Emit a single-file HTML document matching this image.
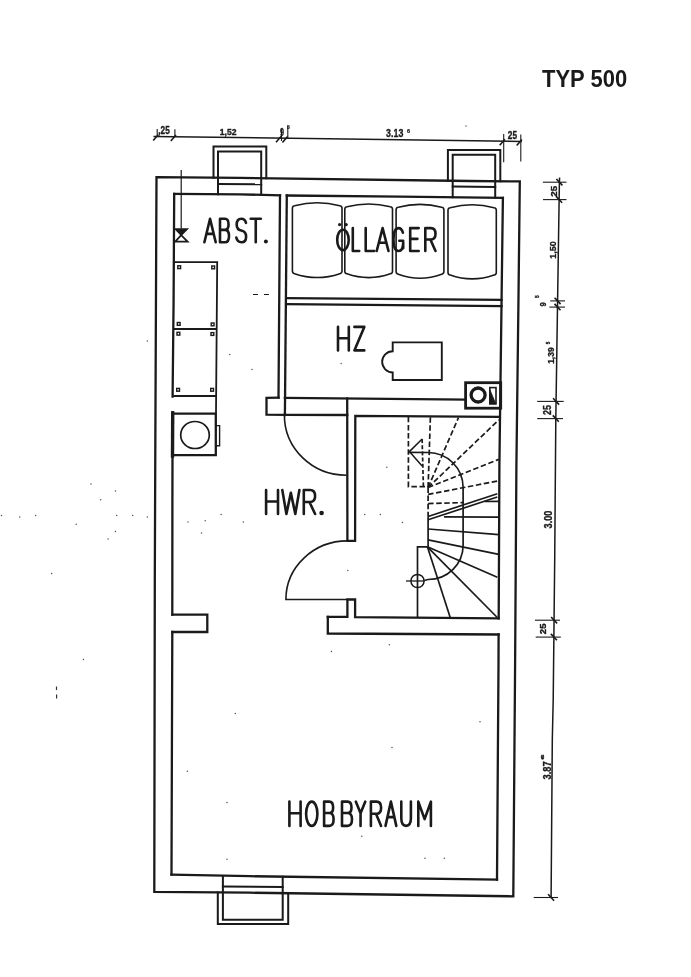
<!DOCTYPE html>
<html><head><meta charset="utf-8"><title>Typ 500</title>
<style>html,body{margin:0;padding:0;background:#fff;overflow:hidden;}svg{display:block;filter:grayscale(1);}</style>
</head><body>
<svg width="691" height="977" viewBox="0 0 691 977" stroke-linecap="butt" stroke-linejoin="miter">
<rect width="691" height="977" fill="#fff"/>
<path d="M156.5,177.2 L240.0,177.9 L470.0,181.0 L519.8,181.4 L518.4,305.0 L516.4,465.0 L515.1,665.0 L513.3,896.3 L250.0,892.7 L154.3,891.8 L154.8,580.0 L155.3,450.0 Z" fill="none" stroke="#1a1a1a" stroke-width="2.3" stroke-linecap="square"/>
<path d="M174.2,193.8 L240.0,194.3 L280.0,195.4" fill="none" stroke="#1a1a1a" stroke-width="2.3" stroke-linecap="square"/>
<path d="M286.8,195.5 L400.0,196.7 L502.9,197.8" fill="none" stroke="#1a1a1a" stroke-width="2.3" stroke-linecap="square"/>
<path d="M174.2,193.8 L173.6,300.0 L172.6,396.6" fill="none" stroke="#1a1a1a" stroke-width="2.3" stroke-linecap="square"/>
<path d="M172.6,412.2 L172.4,500.0 L172.3,614.6" fill="none" stroke="#1a1a1a" stroke-width="2.3" stroke-linecap="square"/>
<path d="M172.3,632.0 L171.9,750.0 L171.5,874.6" fill="none" stroke="#1a1a1a" stroke-width="2.3" stroke-linecap="square"/>
<path d="M171.5,874.6 L250.0,876.2 L497.0,879.7" fill="none" stroke="#1a1a1a" stroke-width="2.3" stroke-linecap="square"/>
<path d="M502.9,197.8 L501.5,305.0 L499.4,465.0 L498.7,618.3" fill="none" stroke="#1a1a1a" stroke-width="2.3" stroke-linecap="square"/>
<path d="M498.6,634.5 L498.5,665.0 L497.0,879.7" fill="none" stroke="#1a1a1a" stroke-width="2.3" stroke-linecap="square"/>
<path d="M280.0,195.4 L278.5,397.6" fill="none" stroke="#1a1a1a" stroke-width="2.3" stroke-linecap="square"/>
<path d="M286.8,195.5 L284.9,415.0" fill="none" stroke="#1a1a1a" stroke-width="2.3" stroke-linecap="square"/>
<path d="M286.3,298.1 L501.6,299.8" fill="none" stroke="#1a1a1a" stroke-width="2.3" stroke-linecap="square"/>
<path d="M286.2,304.1 L501.6,306.2" fill="none" stroke="#1a1a1a" stroke-width="2.3" stroke-linecap="square"/>
<path d="M278.6,397.6 L266.5,397.8 L266.5,414.7 L284.9,414.9" fill="none" stroke="#1a1a1a" stroke-width="2.3" stroke-linecap="square"/>
<path d="M284.9,397.8 L465.6,399.6" fill="none" stroke="#1a1a1a" stroke-width="2.3" stroke-linecap="square"/>
<path d="M284.9,414.9 L347.3,415.0" fill="none" stroke="#1a1a1a" stroke-width="2.3" stroke-linecap="square"/>
<path d="M347.2,398.3 L347.4,540.9 L355.1,540.9 L355.3,415.8 L499.4,416.8" fill="none" stroke="#1a1a1a" stroke-width="2.3" stroke-linecap="square"/>
<path d="M327.8,616.9 L347.4,616.9 L347.4,599.5 L355.1,599.5 L355.1,617.2 L498.7,618.3" fill="none" stroke="#1a1a1a" stroke-width="2.3" stroke-linecap="square"/>
<path d="M327.8,616.9 L327.8,633.5 L498.6,634.5" fill="none" stroke="#1a1a1a" stroke-width="2.3" stroke-linecap="square"/>
<path d="M172.3,614.6 L207.3,614.6 L207.3,632.0 L172.3,632.0" fill="none" stroke="#1a1a1a" stroke-width="2.3" stroke-linecap="square"/>
<path d="M213.5,177.7 L213.5,146.5 L266.3,146.5 L266.3,178.2" fill="none" stroke="#1a1a1a" stroke-width="2.0" stroke-linecap="square"/>
<path d="M218.0,194.3 L218.0,151.4 L261.2,151.4 L261.2,194.6" fill="none" stroke="#1a1a1a" stroke-width="2.0" stroke-linecap="square"/>
<path d="M218.0,184.0 L261.2,184.3" fill="none" stroke="#1a1a1a" stroke-width="2.0" stroke-linecap="square"/>
<path d="M447.9,180.6 L447.9,149.9 L500.3,149.9 L500.3,181.2" fill="none" stroke="#1a1a1a" stroke-width="2.0" stroke-linecap="square"/>
<path d="M452.7,197.3 L452.7,154.7 L495.2,154.7 L495.2,197.7" fill="none" stroke="#1a1a1a" stroke-width="2.0" stroke-linecap="square"/>
<path d="M452.7,186.6 L495.2,186.9" fill="none" stroke="#1a1a1a" stroke-width="2.0" stroke-linecap="square"/>
<path d="M217.8,892.5 L217.8,923.9 L288.2,923.9 L288.2,893.2" fill="none" stroke="#1a1a1a" stroke-width="2.0" stroke-linecap="square"/>
<path d="M222.9,876.1 L222.9,919.8 L282.7,919.8 L282.7,876.8" fill="none" stroke="#1a1a1a" stroke-width="2.0" stroke-linecap="square"/>
<path d="M222.9,886.6 L282.7,887.0" fill="none" stroke="#1a1a1a" stroke-width="2.0" stroke-linecap="square"/>
<path d="M292.4,271.1 L292.4,208.2 Q292.4,206.0 294.59999999999997,205.71 Q317.2,199.69 339.8,205.71 Q342.0,206.0 342.0,208.2 L342.0,271.1 Q342.0,273.3 339.8,273.67 Q317.2,281.33 294.59999999999997,273.67 Q292.4,273.3 292.4,271.1 Z" fill="none" stroke="#1a1a1a" stroke-width="1.6"/>
<path d="M344.8,271.2 L344.8,209.2 Q344.8,207.0 347.0,206.72 Q368.65,201.28 390.3,206.72 Q392.5,207.0 392.5,209.2 L392.5,271.2 Q392.5,273.4 390.3,273.79 Q368.65,281.41 347.0,273.79 Q344.8,273.4 344.8,271.2 Z" fill="none" stroke="#1a1a1a" stroke-width="1.6"/>
<path d="M396.1,271.6 L396.1,209.7 Q396.1,207.5 398.3,207.21 Q420.0,201.59 441.7,207.21 Q443.9,207.5 443.9,209.7 L443.9,271.6 Q443.9,273.8 441.7,274.21 Q420.0,282.19 398.3,274.21 Q396.1,273.8 396.1,271.6 Z" fill="none" stroke="#1a1a1a" stroke-width="1.6"/>
<path d="M448.0,272.40000000000003 L448.0,210.2 Q448.0,208.0 450.2,207.71 Q472.15,201.89 494.1,207.71 Q496.3,208.0 496.3,210.2 L496.3,272.40000000000003 Q496.3,274.6 494.1,274.99 Q472.15,282.81 450.2,274.99 Q448.0,274.6 448.0,272.40000000000003 Z" fill="none" stroke="#1a1a1a" stroke-width="1.6"/>
<path d="M284.4,415 A62,60 0 0 0 346.5,475.2" fill="none" stroke="#1a1a1a" stroke-width="1.6"/>
<path d="M347.4,540.9 A61.5,58.6 0 0 0 285.9,599.5 L347.4,599.5" fill="none" stroke="#1a1a1a" stroke-width="1.6"/>
<path d="M173.6,262.1 L217.2,262.1 L216.0,413.4" fill="none" stroke="#1a1a1a" stroke-width="1.8"/>
<path d="M173.6,329.0 L216.6,329.0" fill="none" stroke="#1a1a1a" stroke-width="1.8"/>
<path d="M173.2,396.0 L216.0,396.0" fill="none" stroke="#1a1a1a" stroke-width="1.8"/>
<rect x="177.8" y="265.8" width="2.8" height="2.8" fill="none" stroke="#1a1a1a" stroke-width="1.4"/>
<rect x="211.8" y="266.0" width="2.8" height="2.8" fill="none" stroke="#1a1a1a" stroke-width="1.4"/>
<rect x="177.3" y="322.5" width="2.8" height="2.8" fill="none" stroke="#1a1a1a" stroke-width="1.4"/>
<rect x="211.2" y="323.0" width="2.8" height="2.8" fill="none" stroke="#1a1a1a" stroke-width="1.4"/>
<rect x="177.0" y="332.3" width="2.8" height="2.8" fill="none" stroke="#1a1a1a" stroke-width="1.4"/>
<rect x="211.0" y="332.6" width="2.8" height="2.8" fill="none" stroke="#1a1a1a" stroke-width="1.4"/>
<rect x="176.7" y="388.4" width="2.8" height="2.8" fill="none" stroke="#1a1a1a" stroke-width="1.4"/>
<rect x="210.7" y="388.4" width="2.8" height="2.8" fill="none" stroke="#1a1a1a" stroke-width="1.4"/>
<path d="M172.6,413.6 L215.8,413.6 L215.8,455.2 L172.6,455.2" fill="none" stroke="#1a1a1a" stroke-width="2.3" stroke-linecap="square"/>
<path d="M172.7,413.0 L172.5,456.0" fill="none" stroke="#1a1a1a" stroke-width="3.4" stroke-linecap="square"/>
<ellipse cx="195.0" cy="435.0" rx="14.3" ry="13.5" fill="none" stroke="#1a1a1a" stroke-width="1.7"/>
<path d="M215.8,425.6 L219.6,425.6 L219.6,445.8 L215.8,445.8" fill="none" stroke="#1a1a1a" stroke-width="1.4"/>
<path d="M181.2,170.1 L181.2,228.7" fill="none" stroke="#1a1a1a" stroke-width="1.2"/>
<path d="M175.2,228.9 L187.4,228.9 L181.2,235.2 Z" fill="#1a1a1a" stroke="#1a1a1a" stroke-width="1.4"/>
<path d="M181.2,235.2 L175.2,241.6 L187.6,241.6 Z" fill="none" stroke="#1a1a1a" stroke-width="1.8"/>
<path d="M392.7,342.4 L441.8,342.4 L441.8,380 L392.7,380 L392.7,372.4 A10.5,10.5 0 0 1 392.7,351.3 Z" fill="none" stroke="#1a1a1a" stroke-width="1.9"/>
<rect x="465.6" y="382.7" width="35.1" height="25.5" fill="none" stroke="#1a1a1a" stroke-width="2.8"/>
<circle cx="478.1" cy="395.0" r="7.0" fill="none" stroke="#1a1a1a" stroke-width="3.3"/>
<rect x="489.8" y="387.6" width="6.2" height="16.3" fill="none" stroke="#1a1a1a" stroke-width="1.6"/>
<path d="M490,390 L490,403.8 L495.8,403.8 Z" fill="#1a1a1a" stroke="#1a1a1a" stroke-width="0.8"/>
<path d="M408.4,416.8 L408.4,486.7 L428.1,486.7" fill="none" stroke="#1a1a1a" stroke-width="1.7" stroke-dasharray="5.5,2.6"/>
<path d="M428.1,487.5 L430.4,416.8" fill="none" stroke="#1a1a1a" stroke-width="1.7" stroke-dasharray="5.5,2.6"/>
<path d="M428.1,487.5 L458.5,417.6" fill="none" stroke="#1a1a1a" stroke-width="1.7" stroke-dasharray="5.5,2.6"/>
<path d="M428.1,487.5 L498.8,419.9" fill="none" stroke="#1a1a1a" stroke-width="1.7" stroke-dasharray="5.5,2.6"/>
<path d="M428.1,487.5 L498.8,459.4" fill="none" stroke="#1a1a1a" stroke-width="1.7" stroke-dasharray="5.5,2.6"/>
<path d="M428.1,494.4 L498.8,480.8" fill="none" stroke="#1a1a1a" stroke-width="1.7" stroke-dasharray="5.5,2.6"/>
<path d="M428.1,503.6 L463.8,502.6" fill="none" stroke="#1a1a1a" stroke-width="1.7" stroke-dasharray="5.5,2.6"/>
<path d="M484.5,501.5 L498.8,501.3" fill="none" stroke="#1a1a1a" stroke-width="1.7"/>
<path d="M428.1,487.5 L428.1,516.5" fill="none" stroke="#1a1a1a" stroke-width="1.7" stroke-dasharray="5.5,2.6"/>
<path d="M428.1,516.5 L428.1,546.9" fill="none" stroke="#1a1a1a" stroke-width="1.7"/>
<path d="M428.1,516.5 L497.3,493.7" fill="none" stroke="#1a1a1a" stroke-width="1.7"/>
<path d="M428.1,519.8 L497.3,497.0" fill="none" stroke="#1a1a1a" stroke-width="1.7"/>
<path d="M444.0,516.9 L498.8,517.2" fill="none" stroke="#1a1a1a" stroke-width="1.7"/>
<path d="M428.1,529.0 L498.8,534.7" fill="none" stroke="#1a1a1a" stroke-width="1.7"/>
<path d="M428.1,539.8 L498.8,554.4" fill="none" stroke="#1a1a1a" stroke-width="1.7"/>
<path d="M427.4,546.8 L450.2,617.5" fill="none" stroke="#1a1a1a" stroke-width="1.7"/>
<path d="M427.4,546.8 L497.3,617.5" fill="none" stroke="#1a1a1a" stroke-width="1.7"/>
<path d="M427.4,546.8 L497.3,577.2" fill="none" stroke="#1a1a1a" stroke-width="1.7"/>
<path d="M417.5,617.5 L417.5,546.8 L427.4,546.8" fill="none" stroke="#1a1a1a" stroke-width="1.7"/>
<path d="M428.1,452.5 A35,35 0 0 1 463.1,487.5 L463.1,545 A35,34 0 0 1 428.1,579.5 L424.3,580.5" fill="none" stroke="#1a1a1a" stroke-width="1.7"/>
<circle cx="417.5" cy="581" r="6.6" fill="none" stroke="#1a1a1a" stroke-width="1.5"/>
<path d="M406.0,581.0 L424.3,581.0" fill="none" stroke="#1a1a1a" stroke-width="1.3"/>
<path d="M409.2,452.3 L428.1,452.5" fill="none" stroke="#1a1a1a" stroke-width="1.7"/>
<path d="M422.1,439 L409.4,451.6 L422.1,466.1" fill="none" stroke="#1a1a1a" stroke-width="1.5"/>
<path d="M422.1,439.0 L423.4,486.6" fill="none" stroke="#1a1a1a" stroke-width="1.7" stroke-dasharray="4,2.2"/>
<g><title>ABST.</title>
<path d="M204.40,242.30 L210.05,218.80 L215.70,242.30 M206.66,233.84 L213.44,233.84" fill="none" stroke="#1a1a1a" stroke-width="2.6" stroke-linecap="round" stroke-linejoin="round"/>
<path d="M220.00,242.30 L220.00,218.80 L224.95,218.80 Q228.55,218.80 228.55,224.44 Q228.55,229.84 224.95,229.84 L220.00,229.84 M224.95,229.84 Q229.00,229.84 229.00,235.95 Q229.00,242.30 224.95,242.30 L220.00,242.30" fill="none" stroke="#1a1a1a" stroke-width="2.6" stroke-linecap="round" stroke-linejoin="round"/>
<path d="M246.00,222.80 Q244.88,218.80 241.35,218.80 Q236.70,218.80 236.70,224.68 Q236.70,229.61 241.35,230.55 Q246.10,231.49 246.10,236.66 Q246.10,242.30 241.35,242.30 Q237.31,242.30 236.30,237.60" fill="none" stroke="#1a1a1a" stroke-width="2.6" stroke-linecap="round" stroke-linejoin="round"/>
<path d="M250.70,218.80 L260.80,218.80 M255.75,218.80 L255.75,242.30" fill="none" stroke="#1a1a1a" stroke-width="2.6" stroke-linecap="round" stroke-linejoin="round"/>
<circle cx="265.90" cy="241.60" r="2.00" fill="#1a1a1a"/>
</g>
<g><title>ÖLLAGER</title>
<path d="M337.20,239.90 A5.75,10.20 0 1 0 348.70,239.90 A5.75,10.20 0 1 0 337.20,239.90" fill="none" stroke="#1a1a1a" stroke-width="2.6" stroke-linecap="round" stroke-linejoin="round"/>
<path d="M352.80,228.10 L352.80,251.00 L359.20,251.00" fill="none" stroke="#1a1a1a" stroke-width="2.6" stroke-linecap="round" stroke-linejoin="round"/>
<path d="M365.70,228.10 L365.70,251.00 L374.20,251.00" fill="none" stroke="#1a1a1a" stroke-width="2.6" stroke-linecap="round" stroke-linejoin="round"/>
<path d="M376.70,251.00 L382.60,228.10 L388.50,251.00 M379.06,242.76 L386.14,242.76" fill="none" stroke="#1a1a1a" stroke-width="2.6" stroke-linecap="round" stroke-linejoin="round"/>
<path d="M402.91,232.68 Q401.75,228.10 398.54,228.10 Q393.50,228.10 393.50,239.55 Q393.50,251.00 398.54,251.00 Q403.20,251.00 403.20,242.30 L403.20,248.25 M403.20,240.70 L399.32,240.70" fill="none" stroke="#1a1a1a" stroke-width="2.6" stroke-linecap="round" stroke-linejoin="round"/>
<path d="M418.70,228.10 L410.20,228.10 L410.20,251.00 L418.70,251.00 M410.20,238.86 L417.43,238.86" fill="none" stroke="#1a1a1a" stroke-width="2.6" stroke-linecap="round" stroke-linejoin="round"/>
<path d="M425.30,251.00 L425.30,228.10 L430.91,228.10 Q435.50,228.10 435.50,233.83 Q435.50,239.55 430.91,239.55 L425.30,239.55 M430.40,239.55 L435.50,251.00" fill="none" stroke="#1a1a1a" stroke-width="2.6" stroke-linecap="round" stroke-linejoin="round"/>
<circle cx="339.6" cy="224.6" r="1.6" fill="#1a1a1a"/><circle cx="346.2" cy="224.6" r="1.6" fill="#1a1a1a"/>
</g>
<g><title>HZ</title>
<path d="M338.00,326.90 L338.00,350.40 M348.80,326.90 L348.80,350.40 M338.00,338.18 L348.80,338.18" fill="none" stroke="#1a1a1a" stroke-width="2.6" stroke-linecap="round" stroke-linejoin="round"/>
<path d="M354.40,326.90 L364.30,326.90 L354.40,350.40 L364.30,350.40" fill="none" stroke="#1a1a1a" stroke-width="2.6" stroke-linecap="round" stroke-linejoin="round"/>
</g>
<g><title>HWR.</title>
<path d="M266.10,490.00 L266.10,514.00 M278.00,490.00 L278.00,514.00 M266.10,501.52 L278.00,501.52" fill="none" stroke="#1a1a1a" stroke-width="2.6" stroke-linecap="round" stroke-linejoin="round"/>
<path d="M282.30,490.00 L286.40,514.00 L290.85,492.88 L295.30,514.00 L299.40,490.00" fill="none" stroke="#1a1a1a" stroke-width="2.6" stroke-linecap="round" stroke-linejoin="round"/>
<path d="M303.80,514.00 L303.80,490.00 L310.01,490.00 Q315.10,490.00 315.10,496.00 Q315.10,502.00 310.01,502.00 L303.80,502.00 M309.45,502.00 L315.10,514.00" fill="none" stroke="#1a1a1a" stroke-width="2.6" stroke-linecap="round" stroke-linejoin="round"/>
<circle cx="321.60" cy="513.00" r="2.30" fill="#1a1a1a"/>
</g>
<g><title>HOBBYRAUM</title>
<path d="M289.40,801.60 L289.40,825.90 M300.60,801.60 L300.60,825.90 M289.40,813.26 L300.60,813.26" fill="none" stroke="#1a1a1a" stroke-width="2.6" stroke-linecap="round" stroke-linejoin="round"/>
<path d="M306.10,813.75 A5.65,12.15 0 1 0 317.40,813.75 A5.65,12.15 0 1 0 306.10,813.75" fill="none" stroke="#1a1a1a" stroke-width="2.6" stroke-linecap="round" stroke-linejoin="round"/>
<path d="M324.10,825.90 L324.10,801.60 L329.32,801.60 Q333.12,801.60 333.12,807.43 Q333.12,813.02 329.32,813.02 L324.10,813.02 M329.32,813.02 Q333.60,813.02 333.60,819.34 Q333.60,825.90 329.32,825.90 L324.10,825.90" fill="none" stroke="#1a1a1a" stroke-width="2.6" stroke-linecap="round" stroke-linejoin="round"/>
<path d="M342.00,825.90 L342.00,801.60 L347.50,801.60 Q351.50,801.60 351.50,807.43 Q351.50,813.02 347.50,813.02 L342.00,813.02 M347.50,813.02 Q352.00,813.02 352.00,819.34 Q352.00,825.90 347.50,825.90 L342.00,825.90" fill="none" stroke="#1a1a1a" stroke-width="2.6" stroke-linecap="round" stroke-linejoin="round"/>
<path d="M355.80,801.60 L360.55,813.26 L365.30,801.60 M360.55,813.26 L360.55,825.90" fill="none" stroke="#1a1a1a" stroke-width="2.6" stroke-linecap="round" stroke-linejoin="round"/>
<path d="M370.90,825.90 L370.90,801.60 L376.51,801.60 Q381.10,801.60 381.10,807.67 Q381.10,813.75 376.51,813.75 L370.90,813.75 M376.00,813.75 L381.10,825.90" fill="none" stroke="#1a1a1a" stroke-width="2.6" stroke-linecap="round" stroke-linejoin="round"/>
<path d="M385.50,825.90 L390.90,801.60 L396.30,825.90 M387.66,817.15 L394.14,817.15" fill="none" stroke="#1a1a1a" stroke-width="2.6" stroke-linecap="round" stroke-linejoin="round"/>
<path d="M401.30,801.60 L401.30,818.12 Q401.30,825.90 406.10,825.90 Q410.90,825.90 410.90,818.12 L410.90,801.60" fill="none" stroke="#1a1a1a" stroke-width="2.6" stroke-linecap="round" stroke-linejoin="round"/>
<path d="M418.30,825.90 L418.30,801.60 L424.60,819.10 L430.90,801.60 L430.90,825.90" fill="none" stroke="#1a1a1a" stroke-width="2.6" stroke-linecap="round" stroke-linejoin="round"/>
</g>
<text x="541.96" y="86.80" font-family="&quot;Liberation Sans&quot;, sans-serif" font-size="24.27" font-weight="bold" fill="#1a1a1a" textLength="85.17" lengthAdjust="spacingAndGlyphs">TYP 500</text>
<path d="M153.5,136.4 L521.8,141.4" fill="none" stroke="#1a1a1a" stroke-width="1.5"/>
<path d="M157.2,129.0 L157.2,136.8" fill="none" stroke="#1a1a1a" stroke-width="1.1"/>
<path d="M174.9,129.2 L174.9,137.0" fill="none" stroke="#1a1a1a" stroke-width="1.1"/>
<path d="M281.5,129.0 L281.5,141.0" fill="none" stroke="#1a1a1a" stroke-width="1.1"/>
<path d="M287.8,126.5 L287.8,138.5" fill="none" stroke="#1a1a1a" stroke-width="1.1"/>
<path d="M503.7,134.1 L503.7,162.2" fill="none" stroke="#1a1a1a" stroke-width="1.1"/>
<path d="M520.8,134.4 L520.8,161.5" fill="none" stroke="#1a1a1a" stroke-width="1.1"/>
<path d="M153.2,140.6 L158.4,134.6" fill="none" stroke="#1a1a1a" stroke-width="1.6"/>
<path d="M170.8,140.9 L176.0,134.9" fill="none" stroke="#1a1a1a" stroke-width="1.6"/>
<path d="M276.0,142.3 L281.2,136.3" fill="none" stroke="#1a1a1a" stroke-width="1.6"/>
<path d="M282.4,142.4 L287.6,136.4" fill="none" stroke="#1a1a1a" stroke-width="1.6"/>
<path d="M499.7,145.3 L504.9,139.3" fill="none" stroke="#1a1a1a" stroke-width="1.6"/>
<path d="M516.7,145.6 L521.9,139.6" fill="none" stroke="#1a1a1a" stroke-width="1.6"/>
<text x="158.34" y="134.00" font-family="&quot;Liberation Sans&quot;, sans-serif" font-size="10.32" font-weight="bold" fill="#1a1a1a" stroke="#1a1a1a" stroke-width="0.35" stroke-linejoin="round" textLength="11.40" lengthAdjust="spacingAndGlyphs">,25</text>
<text x="219.86" y="134.80" font-family="&quot;Liberation Sans&quot;, sans-serif" font-size="9.01" font-weight="bold" fill="#1a1a1a" stroke="#1a1a1a" stroke-width="0.35" stroke-linejoin="round" textLength="16.69" lengthAdjust="spacingAndGlyphs">1,52</text>
<text x="279.95" y="136.20" font-family="&quot;Liberation Sans&quot;, sans-serif" font-size="10.32" font-weight="bold" fill="#1a1a1a" stroke="#1a1a1a" stroke-width="0.30" stroke-linejoin="round" textLength="4.03" lengthAdjust="spacingAndGlyphs">9</text>
<text x="287.14" y="129.20" font-family="&quot;Liberation Sans&quot;, sans-serif" font-size="4.51" font-weight="bold" fill="#1a1a1a" stroke="#1a1a1a" stroke-width="0.20" stroke-linejoin="round" textLength="2.80" lengthAdjust="spacingAndGlyphs">5</text>
<text x="386.10" y="136.90" font-family="&quot;Liberation Sans&quot;, sans-serif" font-size="11.17" font-weight="bold" fill="#1a1a1a" stroke="#1a1a1a" stroke-width="0.35" stroke-linejoin="round" textLength="17.23" lengthAdjust="spacingAndGlyphs">3.13</text>
<text x="407.00" y="132.70" font-family="&quot;Liberation Sans&quot;, sans-serif" font-size="4.58" font-weight="bold" fill="#1a1a1a" stroke="#1a1a1a" stroke-width="0.20" stroke-linejoin="round" textLength="3.00" lengthAdjust="spacingAndGlyphs">6</text>
<text x="507.81" y="138.50" font-family="&quot;Liberation Sans&quot;, sans-serif" font-size="10.32" font-weight="bold" fill="#1a1a1a" stroke="#1a1a1a" stroke-width="0.35" stroke-linejoin="round" textLength="9.23" lengthAdjust="spacingAndGlyphs">25</text>
<path d="M559.6,177.5 L559.4,182.0 L557.6,300.0 L555.8,420.0 L554.7,560.0 L553.2,700.0 L552.3,740.0 L551.1,898.0" fill="none" stroke="#1a1a1a" stroke-width="1.5"/>
<path d="M542.9,182.2 L566.5,182.2" fill="none" stroke="#1a1a1a" stroke-width="1.1"/>
<path d="M556.4,179.0 L562.4,185.4" fill="none" stroke="#1a1a1a" stroke-width="1.6"/>
<path d="M543.0,199.6 L566.5,199.6" fill="none" stroke="#1a1a1a" stroke-width="1.1"/>
<path d="M556.1,196.4 L562.1,202.8" fill="none" stroke="#1a1a1a" stroke-width="1.6"/>
<path d="M550.3,300.9 L565.0,300.9" fill="none" stroke="#1a1a1a" stroke-width="1.1"/>
<path d="M554.6,297.7 L560.6,304.1" fill="none" stroke="#1a1a1a" stroke-width="1.6"/>
<path d="M549.4,307.1 L565.0,307.1" fill="none" stroke="#1a1a1a" stroke-width="1.1"/>
<path d="M554.5,303.9 L560.5,310.3" fill="none" stroke="#1a1a1a" stroke-width="1.6"/>
<path d="M537.2,401.4 L563.7,401.4" fill="none" stroke="#1a1a1a" stroke-width="1.1"/>
<path d="M553.1,398.2 L559.1,404.6" fill="none" stroke="#1a1a1a" stroke-width="1.6"/>
<path d="M537.2,418.6 L563.0,418.6" fill="none" stroke="#1a1a1a" stroke-width="1.1"/>
<path d="M552.8,415.4 L558.8,421.8" fill="none" stroke="#1a1a1a" stroke-width="1.6"/>
<path d="M535.0,620.2 L560.0,620.2" fill="none" stroke="#1a1a1a" stroke-width="1.1"/>
<path d="M551.1,617.0 L557.1,623.4" fill="none" stroke="#1a1a1a" stroke-width="1.6"/>
<path d="M535.7,637.1 L560.8,637.1" fill="none" stroke="#1a1a1a" stroke-width="1.1"/>
<path d="M550.9,633.9 L556.9,640.3" fill="none" stroke="#1a1a1a" stroke-width="1.6"/>
<path d="M533.7,897.5 L558.0,897.5" fill="none" stroke="#1a1a1a" stroke-width="1.1"/>
<path d="M548.1,894.3 L554.1,900.7" fill="none" stroke="#1a1a1a" stroke-width="1.6"/>
<text x="557.00" y="196.64" font-family="&quot;Liberation Sans&quot;, sans-serif" font-size="9.31" font-weight="bold" fill="#1a1a1a" stroke="#1a1a1a" stroke-width="0.35" stroke-linejoin="round" textLength="10.93" lengthAdjust="spacingAndGlyphs" transform="rotate(-90 557.00 196.64)">25</text>
<text x="555.80" y="258.66" font-family="&quot;Liberation Sans&quot;, sans-serif" font-size="9.30" font-weight="bold" fill="#1a1a1a" stroke="#1a1a1a" stroke-width="0.35" stroke-linejoin="round" textLength="17.44" lengthAdjust="spacingAndGlyphs" transform="rotate(-90 555.80 258.66)">1,50</text>
<text x="545.70" y="306.47" font-family="&quot;Liberation Sans&quot;, sans-serif" font-size="9.31" font-weight="bold" fill="#1a1a1a" stroke="#1a1a1a" stroke-width="0.35" stroke-linejoin="round" textLength="4.26" lengthAdjust="spacingAndGlyphs" transform="rotate(-90 545.70 306.47)">9</text>
<text x="539.20" y="298.04" font-family="&quot;Liberation Sans&quot;, sans-serif" font-size="6.10" font-weight="bold" fill="#1a1a1a" stroke="#1a1a1a" stroke-width="0.35" stroke-linejoin="round" textLength="2.58" lengthAdjust="spacingAndGlyphs" transform="rotate(-90 539.20 298.04)">5</text>
<text x="554.40" y="363.83" font-family="&quot;Liberation Sans&quot;, sans-serif" font-size="9.17" font-weight="bold" fill="#1a1a1a" stroke="#1a1a1a" stroke-width="0.35" stroke-linejoin="round" textLength="16.46" lengthAdjust="spacingAndGlyphs" transform="rotate(-90 554.40 363.83)">1,39</text>
<text x="549.80" y="344.14" font-family="&quot;Liberation Sans&quot;, sans-serif" font-size="5.38" font-weight="bold" fill="#1a1a1a" stroke="#1a1a1a" stroke-width="0.35" stroke-linejoin="round" textLength="2.58" lengthAdjust="spacingAndGlyphs" transform="rotate(-90 549.80 344.14)">5</text>
<text x="551.50" y="414.91" font-family="&quot;Liberation Sans&quot;, sans-serif" font-size="11.32" font-weight="bold" fill="#1a1a1a" stroke="#1a1a1a" stroke-width="0.35" stroke-linejoin="round" textLength="9.87" lengthAdjust="spacingAndGlyphs" transform="rotate(-90 551.50 414.91)">25</text>
<text x="552.20" y="528.41" font-family="&quot;Liberation Sans&quot;, sans-serif" font-size="10.32" font-weight="bold" fill="#1a1a1a" stroke="#1a1a1a" stroke-width="0.35" stroke-linejoin="round" textLength="17.80" lengthAdjust="spacingAndGlyphs" transform="rotate(-90 552.20 528.41)">3.00</text>
<text x="545.80" y="634.13" font-family="&quot;Liberation Sans&quot;, sans-serif" font-size="8.31" font-weight="bold" fill="#1a1a1a" stroke="#1a1a1a" stroke-width="0.35" stroke-linejoin="round" textLength="10.61" lengthAdjust="spacingAndGlyphs" transform="rotate(-90 545.80 634.13)">25</text>
<text x="551.10" y="779.41" font-family="&quot;Liberation Sans&quot;, sans-serif" font-size="11.17" font-weight="bold" fill="#1a1a1a" stroke="#1a1a1a" stroke-width="0.35" stroke-linejoin="round" textLength="18.03" lengthAdjust="spacingAndGlyphs" transform="rotate(-90 551.10 779.41)">3.87</text>
<text x="544.10" y="759.43" font-family="&quot;Liberation Sans&quot;, sans-serif" font-size="3.72" font-weight="bold" fill="#1a1a1a" stroke="#1a1a1a" stroke-width="0.35" stroke-linejoin="round" textLength="4.96" lengthAdjust="spacingAndGlyphs" transform="rotate(-90 544.10 759.43)">6</text>
<path d="M253.0,294.5 L258.0,294.5" fill="none" stroke="#1a1a1a" stroke-width="1.0"/>
<path d="M264.0,294.5 L269.0,294.5" fill="none" stroke="#1a1a1a" stroke-width="1.0"/>
<circle cx="147.4" cy="341" r="0.75" fill="#555"/>
<circle cx="229.8" cy="354.6" r="0.75" fill="#555"/>
<circle cx="252" cy="369.4" r="0.75" fill="#555"/>
<circle cx="221.2" cy="514.5" r="0.75" fill="#555"/>
<circle cx="188" cy="521.9" r="0.75" fill="#555"/>
<circle cx="205.2" cy="520.7" r="0.75" fill="#555"/>
<circle cx="201.5" cy="533" r="0.75" fill="#555"/>
<circle cx="243.3" cy="521.9" r="0.75" fill="#555"/>
<circle cx="91" cy="484" r="0.75" fill="#555"/>
<circle cx="115.5" cy="491" r="0.75" fill="#555"/>
<circle cx="100.7" cy="499.7" r="0.75" fill="#555"/>
<circle cx="1.5" cy="515.6" r="0.75" fill="#555"/>
<circle cx="19.7" cy="516.9" r="0.75" fill="#555"/>
<circle cx="35.6" cy="515.6" r="0.75" fill="#555"/>
<circle cx="76.2" cy="524.2" r="0.75" fill="#555"/>
<circle cx="116.7" cy="515.6" r="0.75" fill="#555"/>
<circle cx="132.7" cy="515.6" r="0.75" fill="#555"/>
<circle cx="147.4" cy="516.9" r="0.75" fill="#555"/>
<circle cx="115.5" cy="531.6" r="0.75" fill="#555"/>
<circle cx="108.1" cy="539" r="0.75" fill="#555"/>
<circle cx="51.6" cy="573.4" r="0.75" fill="#555"/>
<circle cx="83.5" cy="659.4" r="0.75" fill="#555"/>
<circle cx="341.2" cy="363.5" r="0.75" fill="#555"/>
<circle cx="386.8" cy="467.3" r="0.75" fill="#555"/>
<circle cx="364.7" cy="514.6" r="0.75" fill="#555"/>
<circle cx="380.4" cy="514.6" r="0.75" fill="#555"/>
<circle cx="402.5" cy="522.4" r="0.75" fill="#555"/>
<circle cx="347.8" cy="570.6" r="0.75" fill="#555"/>
<circle cx="331.5" cy="651.4" r="0.75" fill="#555"/>
<circle cx="389.3" cy="644.8" r="0.75" fill="#555"/>
<circle cx="235.3" cy="713.5" r="0.75" fill="#555"/>
<circle cx="480" cy="721.8" r="0.75" fill="#555"/>
<circle cx="187.4" cy="771.3" r="0.75" fill="#555"/>
<circle cx="392" cy="747.6" r="0.75" fill="#555"/>
<circle cx="227" cy="802.6" r="0.75" fill="#555"/>
<circle cx="425" cy="858.2" r="0.75" fill="#555"/>
<circle cx="444.3" cy="858.2" r="0.75" fill="#555"/>
<circle cx="227" cy="859.3" r="0.75" fill="#555"/>
<circle cx="361.8" cy="836.2" r="0.75" fill="#555"/>
<circle cx="466" cy="126" r="0.75" fill="#555"/>
<path d="M56.5,686.5 L56.5,690.0" fill="none" stroke="#333" stroke-width="1.2"/>
<path d="M56.6,694.5 L56.6,698.5" fill="none" stroke="#333" stroke-width="1.2"/>
</svg>
</body></html>
